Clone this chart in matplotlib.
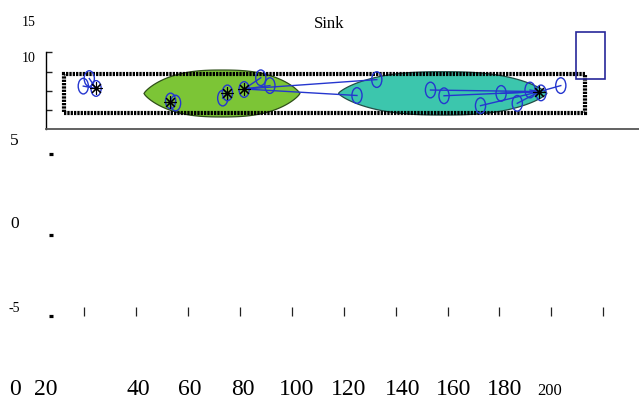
import numpy as np
import matplotlib
matplotlib.use("Agg")
import matplotlib.pyplot as plt
from matplotlib.patches import Rectangle, Ellipse, Polygon

plt.rcParams['font.family'] = ['Liberation Serif', 'DejaVu Serif']

# ---------------- data (field coordinates) ----------------
field_w, field_h = 200, 15

# cluster regions: centre x, centre y, width, height
region_cx = [60.6, 145.3]
region_cy = [7.37, 7.42]
region_w = [59.8, 80.0]
region_h = [18.0, 16.6]
region_fill = ['#7cc536', '#3cc6ad']
region_edge = ['#2f4f1a', '#244e47']

# sensor nodes
nodes_x = [7.4, 9.7, 12.3,
           42.8, 40.9, 60.9, 62.7, 69.1, 75.5, 79.0,
           120.0, 112.4, 140.6, 145.8, 159.8, 167.7, 173.9, 178.8, 183.0, 190.6]
nodes_y = [10.2, 13.1, 9.3,
           3.7, 4.5, 5.6, 7.6, 8.9, 13.4, 10.4,
           12.7, 6.6, 8.7, 6.5, 2.7, 7.4, 3.6, 8.7, 7.6, 10.4]

# cluster heads
heads_x = [12.3, 40.7, 62.6, 69.1, 182.4]
heads_y = [9.3, 4.2, 7.4, 9.1, 8.1]

# links: (node index, head index)
links = [(0, 0), (1, 0),
         (3, 1), (5, 2), (8, 3), (9, 3), (10, 3), (11, 3),
         (12, 4), (13, 4), (14, 4), (15, 4), (16, 4), (17, 4), (19, 4)]

# sink: x, y, width, height
sink = (196.3, 13.0, 11.4, 18.1)
title = 'Sink'

top_yticks = [1.0, 8.4, 15.7, 23.2]
low_xticks = [20, 40, 60, 80, 100, 120, 140, 160, 180, 200, 220]
low_yticks = [5, 0, -5]

left_labels = ['15', '10', '5', '0', '-5']
bottom_labels = ['0', '20', '40', '60', '80', '100', '120', '140', '160', '180', '200']

# ---------------- layout ----------------
W, H = 639, 401
fig = plt.figure(figsize=(W / 100, H / 100), dpi=100)


def rect(l, t, r, b):
    return [l / W, 1 - b / H, (r - l) / W, (b - t) / H]


S = 2.6065            # px per field unit
x0px, y0px = 64, 112.7  # pixel of field origin

ax = fig.add_axes(rect(45.7, 25, 639, 129.3))
ax.set_xlim((45.7 - x0px) / S, (639 - x0px) / S)
ax.set_ylim((y0px - 129.3) / S, (y0px - 25) / S)
ax.patch.set_alpha(0)
for sp in ('top', 'right'):
    ax.spines[sp].set_visible(False)
ax.spines['left'].set_bounds((y0px - 129.3) / S, (y0px - 52) / S)
ax.spines['left'].set_linewidth(1.0)
ax.spines['bottom'].set_color('#555555')
ax.spines['bottom'].set_linewidth(1.3)
ax.set_xticks([])
ax.set_yticks(top_yticks)
ax.tick_params(axis='y', direction='in', length=4.5, width=1.0, labelleft=False, color='#222222')


def lens(cx, cy, w, h, p=2.6, n=160):
    t = np.linspace(-1, 1, n)
    xs = cx + t * w / 2
    prof = (1 - np.abs(t) ** p) ** 0.8
    up = cy + h / 2 * prof
    lo = cy - h / 2 * prof
    return np.column_stack([np.concatenate([xs, xs[::-1]]),
                            np.concatenate([up, lo[::-1]])])


for cx, cy, w, h, fc, ec in zip(region_cx, region_cy, region_w, region_h, region_fill, region_edge):
    ax.add_patch(Polygon(lens(cx, cy, w, h), closed=True, facecolor=fc,
                         edgecolor=ec, lw=0.9, zorder=1))

ax.add_patch(Rectangle((0, 0), field_w, field_h, fill=False, edgecolor='black',
                       lw=3.0, linestyle=(0, (0.55, 0.25)), zorder=2))

blue = '#2536cf'
for ni, hi in links:
    ax.plot([nodes_x[ni], heads_x[hi]], [nodes_y[ni], heads_y[hi]],
            color=blue, lw=1.0, zorder=3)

for x, y in zip(nodes_x, nodes_y):
    ax.add_patch(Ellipse((x, y), 3.9, 6.0, fill=False, edgecolor=blue, lw=1.0, zorder=4))

ax.plot(heads_x, heads_y, linestyle='none', marker=(8, 2, 0), ms=9,
        mec='black', mew=0.8, zorder=5)

ax.add_patch(Rectangle(sink[:2], sink[2], sink[3], fill=False, edgecolor='#27279a',
                       lw=1.2, zorder=4, clip_on=False))

# ---------------- lower axes ----------------
axl = fig.add_axes(rect(50.7, 140, 639, 316))
axl.set_xlim(20 + (50.7 - 84.3) / 2.595, 20 + (639 - 84.3) / 2.595)
axl.set_ylim(-5, -5 + (316 - 140) / 16.2)
axl.patch.set_alpha(0)
for sp in axl.spines.values():
    sp.set_visible(False)
axl.set_xticks(low_xticks)
axl.set_yticks(low_yticks)
axl.tick_params(axis='x', direction='in', length=6.5, width=0.9, color='#222222', labelbottom=False)
axl.tick_params(axis='y', direction='inout', length=2.3, width=2.3, color='black', labelleft=False)

# ---------------- texts ----------------
def ftext(px, py, s, size, va='center'):
    fig.text(px / W, 1 - py / H, s, ha='center', va=va, fontsize=size, color='black')


ftext(329, 23.5, title, 12)
left_pos = [(28.5, 23), (28.5, 58.5), (14.5, 141), (14.5, 224), (14, 309)]
left_size = [10, 10, 12.5, 12.5, 10]
for (px, py), s, fs in zip(left_pos, left_labels, left_size):
    ftext(px, py, s, fs)

bottom_px = [15, 46, 138.5, 190, 242.5, 296.5, 349, 402.5, 453.5, 504.5, 549.5]
for px, s in zip(bottom_px, bottom_labels):
    ftext(px, 395, s, 12 if s == '200' else 17, va='baseline')

fig.savefig('out.png', dpi=100)
